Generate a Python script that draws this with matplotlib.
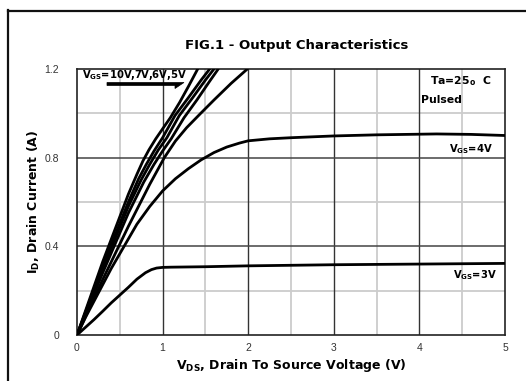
import matplotlib
matplotlib.use("Agg")
import matplotlib.pyplot as plt
from matplotlib.lines import Line2D
from matplotlib.patches import Polygon

plt.rcParams['font.family'] = ['DejaVu Sans']
plt.rcParams['mathtext.fontset'] = 'custom'
plt.rcParams['mathtext.rm'] = 'DejaVu Sans:bold'
plt.rcParams['mathtext.bf'] = 'DejaVu Sans:bold'
plt.rcParams['mathtext.it'] = 'DejaVu Sans:bold'

# ---- data ----
vds_10v = [0, 0.3, 0.6, 0.7, 0.77, 0.84, 0.92, 1.0, 1.09, 1.2, 1.3, 1.41]
id_10v = [0, 0.33, 0.635, 0.725, 0.785, 0.835, 0.885, 0.93, 0.98, 1.05, 1.12, 1.2]
vds_7v = [0, 0.3, 0.6, 0.72, 0.81, 0.9, 1.0, 1.145, 1.3, 1.45, 1.55]
id_7v = [0, 0.31, 0.6, 0.705, 0.77, 0.83, 0.89, 0.99, 1.07, 1.15, 1.2]
vds_6v = [0, 0.3, 0.6, 0.75, 0.85, 0.95, 1.05, 1.195, 1.35, 1.5, 1.6]
id_6v = [0, 0.3, 0.58, 0.7, 0.77, 0.835, 0.89, 0.99, 1.07, 1.15, 1.2]
vds_5v = [0, 0.3, 0.6, 0.78, 0.9, 1.0, 1.1, 1.25, 1.4, 1.55, 1.65]
id_5v = [0, 0.28, 0.55, 0.69, 0.77, 0.83, 0.885, 0.98, 1.06, 1.145, 1.2]
vds_mid = [0, 0.3, 0.6, 0.85, 1.02, 1.15, 1.28, 1.445, 1.6, 1.8, 1.99]
id_mid = [0, 0.25, 0.49, 0.68, 0.8, 0.875, 0.935, 1.0, 1.06, 1.135, 1.2]
vds_4v = [0, 0.1, 0.25, 0.4, 0.55, 0.7, 0.85, 1.0, 1.15, 1.3, 1.45, 1.6, 1.75,
          1.9, 2.0, 2.25, 2.5, 3.0, 3.5, 4.2, 4.6, 5.0]
id_4v = [0, 0.08, 0.19, 0.3, 0.4, 0.5, 0.58, 0.65, 0.705, 0.75, 0.79, 0.823, 0.848,
         0.866, 0.876, 0.885, 0.89, 0.898, 0.903, 0.907, 0.905, 0.9]
vds_3v = [0, 0.1, 0.2, 0.3, 0.4, 0.5, 0.6, 0.7, 0.8, 0.87, 0.93, 1.0, 1.1, 1.5, 2.0, 3.0, 4.0, 5.0]
id_3v = [0, 0.035, 0.07, 0.107, 0.145, 0.18, 0.215, 0.252, 0.281, 0.295, 0.302, 0.305,
         0.306, 0.308, 0.312, 0.317, 0.32, 0.323]

x_ticks = [0, 1, 2, 3, 4, 5]
x_ticklabels = ['0', '1', '2', '3', '4', '5']
y_ticks = [0, 0.4, 0.8, 1.2]
y_ticklabels = ['0', '0.4', '0.8', '1.2']

curves = [(vds_10v, id_10v), (vds_7v, id_7v), (vds_6v, id_6v), (vds_5v, id_5v),
          (vds_mid, id_mid), (vds_4v, id_4v), (vds_3v, id_3v)]

W, H = 526, 381
fig = plt.figure(figsize=(W / 100, H / 100), dpi=100)
fig.patch.set_facecolor('white')

# outer frame (left and top edges)
fig.add_artist(Line2D([8 / W, 8 / W], [0, 1 - 10 / H], color='#111111', lw=1.6, transform=fig.transFigure))
fig.add_artist(Line2D([8 / W, 1], [1 - 11 / H, 1 - 11 / H], color='#111111', lw=1.6, transform=fig.transFigure))

AW, AH = 505 - 77, 335 - 69
ax = fig.add_axes([77 / W, 1 - 335 / H, AW / W, AH / H])
ax.set_xlim(0, 5)
ax.set_ylim(0, 1.2)

# grid
for xv in [0.5, 1.5, 2.5, 3.5, 4.5]:
    ax.axvline(xv, color='#cccccc', lw=1.3, zorder=1)
for yv in [0.2, 0.6, 1.0]:
    ax.axhline(yv, color='#cccccc', lw=1.3, zorder=1)
for xv in [1, 2, 3, 4]:
    ax.axvline(xv, color='#333333', lw=1.0, zorder=1.5)
for yv in [0.4, 0.8]:
    ax.axhline(yv, color='#444444', lw=1.1, zorder=1.5)

for vx, iy in curves:
    ax.plot(vx, iy, color='black', lw=2.0, solid_capstyle='round', solid_joinstyle='round',
            zorder=3, clip_on=True)

for s in ax.spines.values():
    s.set_color('#222222')
    s.set_linewidth(1.2)

ax.set_xticks(x_ticks)
ax.set_xticklabels(x_ticklabels, family='Liberation Sans')
ax.set_yticks(y_ticks)
ax.set_yticklabels(y_ticklabels, family='Liberation Sans')
ax.tick_params(length=0, labelsize=7.5, colors='#333333', pad=6)
ax.tick_params(axis='y', pad=13)

ax.set_xlabel(r'V$_{\mathrm{DS}}$, Drain To Source Voltage (V)', fontsize=9, fontweight='bold', labelpad=3)
ax.set_ylabel(r'I$_{\mathrm{D}}$, Drain Current (A)', fontsize=9, fontweight='bold', labelpad=2)

fig.text(297 / W, 1 - 46 / H, 'FIG.1 - Output Characteristics', fontsize=9.5, fontweight='bold',
         ha='center', va='center')

# annotations
ax.text(5 / AW, 1 - 6.5 / AH, r'V$_{\mathrm{GS}}$=10V,7V,6V,5V', transform=ax.transAxes,
        fontsize=7.2, fontweight='bold', ha='left', va='center', zorder=5)


def px(xp, yp):
    return (xp / AW, 1 - yp / AH)


arrow_pts = [px(30, 13.5), px(107, 13.5), px(98, 19.5), px(98, 16.5), px(30, 16.5)]
ax.add_patch(Polygon(arrow_pts, closed=True, facecolor='black', edgecolor='black', lw=0.5,
                     transform=ax.transAxes, zorder=5, clip_on=False))

ax.text(414 / AW, 1 - 12 / AH, r'Ta=25$_{\mathrm{o}}$  C', transform=ax.transAxes,
        fontsize=7.8, fontweight='bold', ha='right', va='center')
ax.text(344 / AW, 1 - 31 / AH, 'Pulsed', transform=ax.transAxes,
        fontsize=7.8, fontweight='bold', ha='left', va='center')
ax.text(416 / AW, 1 - 80 / AH, r'V$_{\mathrm{GS}}$=4V', transform=ax.transAxes,
        fontsize=7.2, fontweight='bold', ha='right', va='center')
ax.text(420 / AW, 1 - 206 / AH, r'V$_{\mathrm{GS}}$=3V', transform=ax.transAxes,
        fontsize=7.2, fontweight='bold', ha='right', va='center')

fig.savefig('out.png', dpi=100, facecolor='white')
